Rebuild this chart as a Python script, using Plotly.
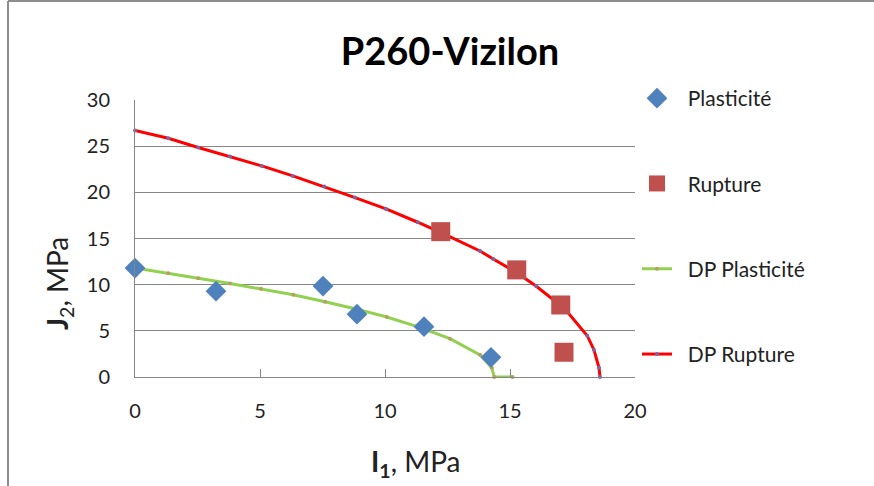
import plotly.graph_objects as go

# Measured points
plast_I1 = [0.0, 3.24, 7.52, 8.88, 11.56, 14.24]
plast_J2 = [11.8, 9.3, 9.85, 6.8, 5.45, 2.13]

rupt_I1 = [12.23, 15.27, 17.03, 17.16]
rupt_J2 = [15.74, 11.6, 7.8, 2.68]

# Drucker-Prager curves
dpp_I1 = [0.0, 1.33, 2.53, 3.8, 5.04, 6.33, 7.6, 8.8, 10.07, 11.3, 12.6, 13.8, 14.27, 14.37, 15.1]
dpp_J2 = [11.8, 11.25, 10.69, 10.12, 9.55, 8.9, 8.15, 7.4, 6.5, 5.45, 4.15, 2.4, 1.0, 0.0, 0.0]

dpr_I1 = [0.0, 1.33, 2.53, 3.8, 5.07, 6.31, 7.57, 8.8, 10.04, 11.31, 12.5, 13.8, 14.33, 15.2, 16.04, 17.2, 18.09, 18.36, 18.56, 18.6]
dpr_J2 = [26.7, 25.85, 24.85, 23.87, 22.86, 21.78, 20.62, 19.43, 18.2, 16.76, 15.3, 13.65, 12.78, 11.42, 9.86, 7.35, 4.47, 2.93, 1.0, 0.0]

FONT = "Lato"
NB = "\u00a0\u00a0"

fig = go.Figure()

fig.add_trace(go.Scatter(
    x=dpp_I1, y=dpp_J2, name=NB + "DP Plasticité", mode="lines+markers",
    line=dict(color="#92D050", width=3),
    marker=dict(size=4, color="#B4A060"),
    legendgroup="c", legendrank=3, cliponaxis=False))
fig.add_trace(go.Scatter(
    x=dpr_I1, y=dpr_J2, name=NB + "DP Rupture", mode="lines+markers",
    line=dict(color="#FF0000", width=3),
    marker=dict(size=4, color="#8064A2"),
    legendgroup="d", legendrank=4, cliponaxis=False))
fig.add_trace(go.Scatter(
    x=plast_I1, y=plast_J2, name=NB + "Plasticité", mode="markers",
    marker=dict(symbol="diamond", size=16, color="#4F81BD"),
    legendgroup="a", legendrank=1, cliponaxis=False))
fig.add_trace(go.Scatter(
    x=rupt_I1, y=rupt_J2, name=NB + "Rupture", mode="markers",
    marker=dict(symbol="square", size=19, color="#C0504D"),
    legendgroup="b", legendrank=2, cliponaxis=False))

L, R, T, B = 135, 239, 100, 109
W, H = 874, 486
pw, ph = W - L - R, H - T - B

def px(xp):
    return (xp - L) / pw

def py(yp):
    return (H - B - yp) / ph

fig.update_layout(
    width=W, height=H,
    margin=dict(l=L, r=R, t=T, b=B),
    paper_bgcolor="white", plot_bgcolor="white",
    font=dict(family=FONT, size=20, color="#222"),
    title=dict(text="<b>P260-Vizilon</b>", x=450 / W, xanchor="center",
               y=1 - 52 / H, yanchor="middle",
               font=dict(family=FONT, size=38, color="black")),
    showlegend=True,
    legend=dict(x=px(637), xanchor="left", y=py(78), yanchor="top",
                font=dict(family=FONT, size=21, color="#222"),
                tracegroupgap=55, bgcolor="rgba(0,0,0,0)",
                itemsizing="trace", maxheight=1),
    xaxis=dict(range=[0, 20], dtick=5, tick0=0, showgrid=False, zeroline=False,
               showline=True, linecolor="#868686", linewidth=1,
               ticks="inside", ticklen=8, tickcolor="#868686",
               ticklabelstandoff=16,
               tickfont=dict(size=20, color="#222")),
    yaxis=dict(range=[0, 30], dtick=5, tick0=0, showgrid=True, gridcolor="#868686",
               gridwidth=1, zeroline=False, showline=True, linecolor="#868686",
               linewidth=1, ticks="", ticklabelstandoff=20,
               tickfont=dict(size=20, color="#222")),
    annotations=[
        dict(text="<b>I<sub>1</sub></b>, MPa", xref="paper", yref="paper",
             x=px(416), y=py(463), xanchor="center", yanchor="middle",
             showarrow=False, font=dict(size=28, color="#222")),
        dict(text="<b>J</b><sub>2</sub>, MPa", xref="paper", yref="paper",
             x=px(59), y=py(284), xanchor="center", yanchor="middle",
             textangle=-90, showarrow=False, font=dict(size=28, color="#222")),
    ],
    shapes=[
        dict(type="line", xref="paper", yref="paper", x0=px(8), x1=px(8),
             y0=py(1), y1=py(490), line=dict(color="#8c8c8c", width=2)),
        dict(type="line", xref="paper", yref="paper", x0=px(8), x1=px(880),
             y0=py(1), y1=py(1), line=dict(color="#8c8c8c", width=2)),
    ],
)

fig.write_html("out.html")
